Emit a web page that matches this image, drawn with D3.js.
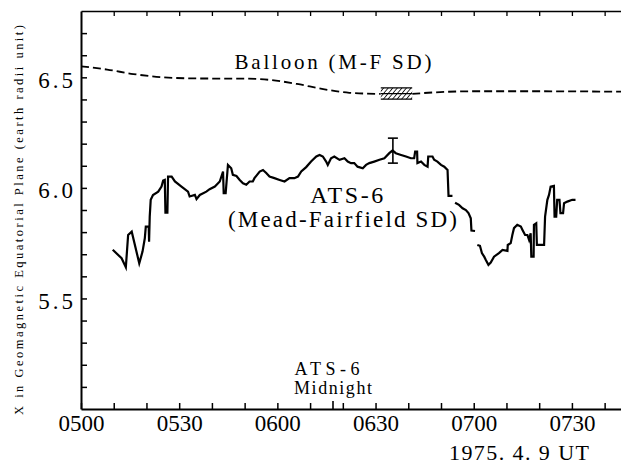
<!DOCTYPE html>
<html>
<head>
<meta charset="utf-8">
<script src="https://cdn.jsdelivr.net/npm/d3@7/dist/d3.min.js"></script>
<style>
  html, body { margin: 0; padding: 0; background: #fff; }
  svg { display: block; }
  text { font-family: "Liberation Serif", "DejaVu Serif", serif; fill: #000; }
</style>
</head>
<body>
<svg id="chart" width="621" height="466"></svg>
<script>
// Time axis in minutes after 05:00 UT, 1975-04-09
const xTickMinutes = [0, 30, 60, 90, 120, 150];
const xTickLabels = ["0500", "0530", "0600", "0630", "0700", "0730"];
const yTickValues = [5.5, 6.0, 6.5];
const yTickLabels = ["5.5", "6.0", "6.5"];

// Balloon-derived (M-F SD) position, split around the hatched interval
const balloonBefore = [
  [0, 6.55], [8, 6.535], [16, 6.515], [25, 6.50], [35, 6.495], [50, 6.494],
  [58, 6.488], [66, 6.47], [74, 6.447], [82, 6.43], [91.6, 6.425]
];
const balloonAfter = [
  [101.2, 6.425], [108, 6.432], [120, 6.437], [140, 6.437], [165, 6.435]
];
const balloonBox = { start: 91.6, end: 101.2, low: 6.401, high: 6.452 };

// ATS-6 (Mead-Fairfield SD) position, three traced segments
const atsSegment1 = [
  [9.7,5.72],[12.4,5.682],[13.7,5.641],[14.4,5.787],[15.5,5.802],[17.8,5.659],[18.8,5.712],
  [19.5,5.772],[19.8,5.825],[20.7,5.825],[20.8,5.757],[21.0,5.87],[21.3,5.946],[22.0,5.968],
  [23.6,5.983],[24.6,6.006],[25.1,6.033],[25.6,6.036],[25.8,5.888],[26.4,5.888],[26.6,6.051],
  [27.7,6.051],[28.7,6.029],[30.7,6.006],[32.7,5.983],[33.2,5.961],[34.8,5.968],[35.3,5.949],
  [36.3,5.968],[38.3,5.983],[39.3,5.994],[40.9,6.006],[42.4,6.029],[43.4,6.074],[43.6,5.976],
  [44.2,5.976],[44.9,6.104],[45.9,6.089],[46.4,6.059],[47.5,6.054],[48.5,6.036],[49.5,6.021],
  [50.5,6.014],[51.5,6.029],[52.5,6.029],[53.0,6.044],[54.6,6.074],[55.6,6.081],[56.6,6.067],
  [57.6,6.051],[59.1,6.044],[60.7,6.036],[62.2,6.029],[63.7,6.044],[65.2,6.044],[66.3,6.051],
  [67.3,6.074],[68.8,6.094],[70.3,6.119],[71.9,6.142],[72.9,6.149],[73.9,6.142],[74.9,6.119],
  [75.4,6.104],[76.4,6.134],[77.4,6.142],[79.0,6.127],[80.5,6.134],[81.5,6.119],[82.5,6.112],
  [83.5,6.112],[84.5,6.096],[86.1,6.089],[87.1,6.104],[88.1,6.112],[89.6,6.119],[91.2,6.127],
  [92.7,6.134],[94.2,6.157],[95.2,6.169],[96.2,6.157],[97.8,6.149],[99.3,6.142],[100.8,6.134],
  [101.8,6.134],[102.1,6.164],[102.7,6.164],[102.8,6.112],[103.9,6.119],[104.9,6.104],
  [105.9,6.096],[106.1,6.142],[107.4,6.142],[107.9,6.127],[108.9,6.119],[110.0,6.104],
  [111.0,6.096],[112.0,6.081],[112.3,5.964],[113.5,5.964]
];
const atsSegment2 = [
  [114.3,5.933],[115.5,5.923],[116.6,5.908],[117.6,5.9],[118.4,5.886],[119.1,5.863],
  [119.3,5.807],[120.4,5.805]
];
const atsSegment3 = [
  [121.1,5.742],[121.9,5.738],[122.5,5.705],[123.2,5.689],[123.7,5.674],[124.5,5.652],
  [125.2,5.662],[126.2,5.689],[127.7,5.705],[128.8,5.719],[130.3,5.715],[130.4,5.742],
  [131.3,5.75],[131.8,5.787],[132.3,5.818],[133.3,5.833],[134.4,5.825],[134.9,5.81],
  [135.7,5.787],[136.4,5.787],[136.9,5.765],[137.4,5.795],[137.6,5.689],[138.3,5.689],
  [138.4,5.833],[139.1,5.84],[139.3,5.742],[141.5,5.742],[141.8,5.87],[142.5,5.946],
  [143.0,5.968],[143.5,6.006],[144.5,6.009],[144.7,5.87],[145.2,5.87],[145.5,5.946],
  [146.2,5.946],[146.5,5.886],[147.3,5.886],[147.6,5.931],[148.6,5.938],[150.1,5.946],
  [151.1,5.946]
];
// ATS-6 uncertainty bar
const atsErrorBar = { t: 95.3, low: 6.112, high: 6.225 };
// ATS-6 local midnight
const atsMidnight = 77;

const svg = d3.select("#chart");
const plotLeft = 81, plotRight = 621, plotTop = 11, plotBottom = 409;

const x = d3.scaleLinear().domain([0, 165]).range([plotLeft, plotRight]);
const y = d3.scaleLinear().domain([5.0, 6.8]).range([plotBottom, plotTop]);

const minuteTicks = d3.range(10, 165, 10);
const yMinor = d3.range(51, 68).map(d => d / 10);

// Bottom axis with inward ticks
const gx = svg.append("g").attr("transform", `translate(0,${plotBottom})`)
  .call(d3.axisBottom(x).tickValues([0].concat(minuteTicks)).tickSize(-6).tickSizeOuter(0)
    .tickFormat(d => { const i = xTickMinutes.indexOf(d); return i >= 0 ? xTickLabels[i] : ""; }));
gx.select(".domain").attr("stroke-width", 2);
gx.selectAll(".tick line").attr("stroke-width", 1.5);
gx.selectAll(".tick text").attr("y", 22).attr("dy", 0)
  .style("font-size", "23px").style("font-family", "Liberation Serif");

// Top frame line with inward ticks
const gt = svg.append("g").attr("transform", `translate(0,${plotTop})`)
  .call(d3.axisTop(x).tickValues(minuteTicks).tickSize(-5).tickSizeOuter(0).tickFormat(""));
gt.select(".domain").attr("stroke-width", 1.6);
gt.selectAll(".tick line").attr("stroke-width", 1.3);

// Left axis with inward ticks
const gy = svg.append("g").attr("transform", `translate(${plotLeft},0)`)
  .call(d3.axisLeft(y).tickValues(yMinor).tickSize(-6).tickSizeOuter(0)
    .tickFormat(d => { const i = yTickValues.findIndex(v => Math.abs(v - d) < 1e-6); return i >= 0 ? yTickLabels[i] : ""; }));
gy.select(".domain").attr("stroke-width", 2);
gy.selectAll(".tick line").attr("stroke-width", 1.5);
gy.selectAll(".tick text").attr("x", -5).attr("dy", 10)
  .style("font-size", "23px").style("font-family", "Liberation Serif")
  .style("letter-spacing", "3px");

// Midnight marker on the time axis
svg.append("line")
  .attr("x1", x(atsMidnight)).attr("x2", x(atsMidnight))
  .attr("y1", plotBottom).attr("y2", plotBottom - 8)
  .attr("stroke", "#000").attr("stroke-width", 1.6);

// Y axis title
svg.append("text")
  .attr("transform", "translate(23,220) rotate(-90)")
  .attr("text-anchor", "middle")
  .attr("textLength", 390).attr("lengthAdjust", "spacing")
  .style("font-size", "12.5px")
  .text("X in Geomagnetic Equatorial Plane (earth radii unit)");

// Hatch pattern for the balloon interval
const defs = svg.append("defs");
const pat = defs.append("pattern").attr("id", "hatch")
  .attr("patternUnits", "userSpaceOnUse").attr("width", 3.5).attr("height", 3.5)
  .attr("patternTransform", "rotate(40)");
pat.append("rect").attr("width", 3.5).attr("height", 3.5).attr("fill", "#fff");
pat.append("line").attr("x1", 0).attr("y1", 0).attr("x2", 0).attr("y2", 3.5)
  .attr("stroke", "#000").attr("stroke-width", 1.6);

// Balloon dashed curve
const balloonLine = d3.line().x(d => x(d[0])).y(d => y(d[1])).curve(d3.curveMonotoneX);
[balloonBefore, balloonAfter].forEach(seg => {
  svg.append("path").datum(seg).attr("d", balloonLine)
    .attr("fill", "none").attr("stroke", "#000").attr("stroke-width", 1.8)
    .attr("stroke-dasharray", "8,4");
});
svg.append("rect")
  .attr("x", x(balloonBox.start)).attr("y", y(balloonBox.high))
  .attr("width", x(balloonBox.end) - x(balloonBox.start))
  .attr("height", y(balloonBox.low) - y(balloonBox.high))
  .attr("fill", "url(#hatch)");
[balloonBox.high, (balloonBox.high + balloonBox.low) / 2, balloonBox.low].forEach(v => {
  svg.append("line")
    .attr("x1", x(balloonBox.start)).attr("x2", x(balloonBox.end))
    .attr("y1", y(v)).attr("y2", y(v))
    .attr("stroke", "#000").attr("stroke-width", 1.3);
});

// ATS-6 trace
const atsLine = d3.line().x(d => x(d[0])).y(d => y(d[1]));
[atsSegment1, atsSegment2, atsSegment3].forEach(seg => {
  svg.append("path").datum(seg).attr("d", atsLine)
    .attr("fill", "none").attr("stroke", "#000").attr("stroke-width", 2.2)
    .attr("stroke-linejoin", "miter");
});

// ATS-6 error bar
const ex = x(atsErrorBar.t);
svg.append("line").attr("x1", ex).attr("x2", ex)
  .attr("y1", y(atsErrorBar.low)).attr("y2", y(atsErrorBar.high))
  .attr("stroke", "#000").attr("stroke-width", 1.6);
[atsErrorBar.low, atsErrorBar.high].forEach(v => {
  svg.append("line").attr("x1", ex - 5).attr("x2", ex + 5)
    .attr("y1", y(v)).attr("y2", y(v))
    .attr("stroke", "#000").attr("stroke-width", 1.6);
});

// Annotations
function label(txt, cx, baseline, size, len) {
  svg.append("text").attr("x", cx).attr("y", baseline)
    .attr("text-anchor", "middle")
    .attr("textLength", len).attr("lengthAdjust", "spacing")
    .style("font-size", size + "px").text(txt);
}
label("Balloon (M-F SD)", 333, 68.5, 21, 197);
label("ATS-6", 346.7, 202.7, 24, 73);
label("(Mead-Fairfield SD)", 342.5, 227, 23, 229);
label("ATS-6", 327, 374.5, 18, 65);
label("Midnight", 333, 394, 18, 78);

svg.append("text").attr("x", 449).attr("y", 460)
  .attr("textLength", 140).attr("lengthAdjust", "spacing")
  .style("font-size", "22px").text("1975. 4. 9  UT");
</script>
</body>
</html>
